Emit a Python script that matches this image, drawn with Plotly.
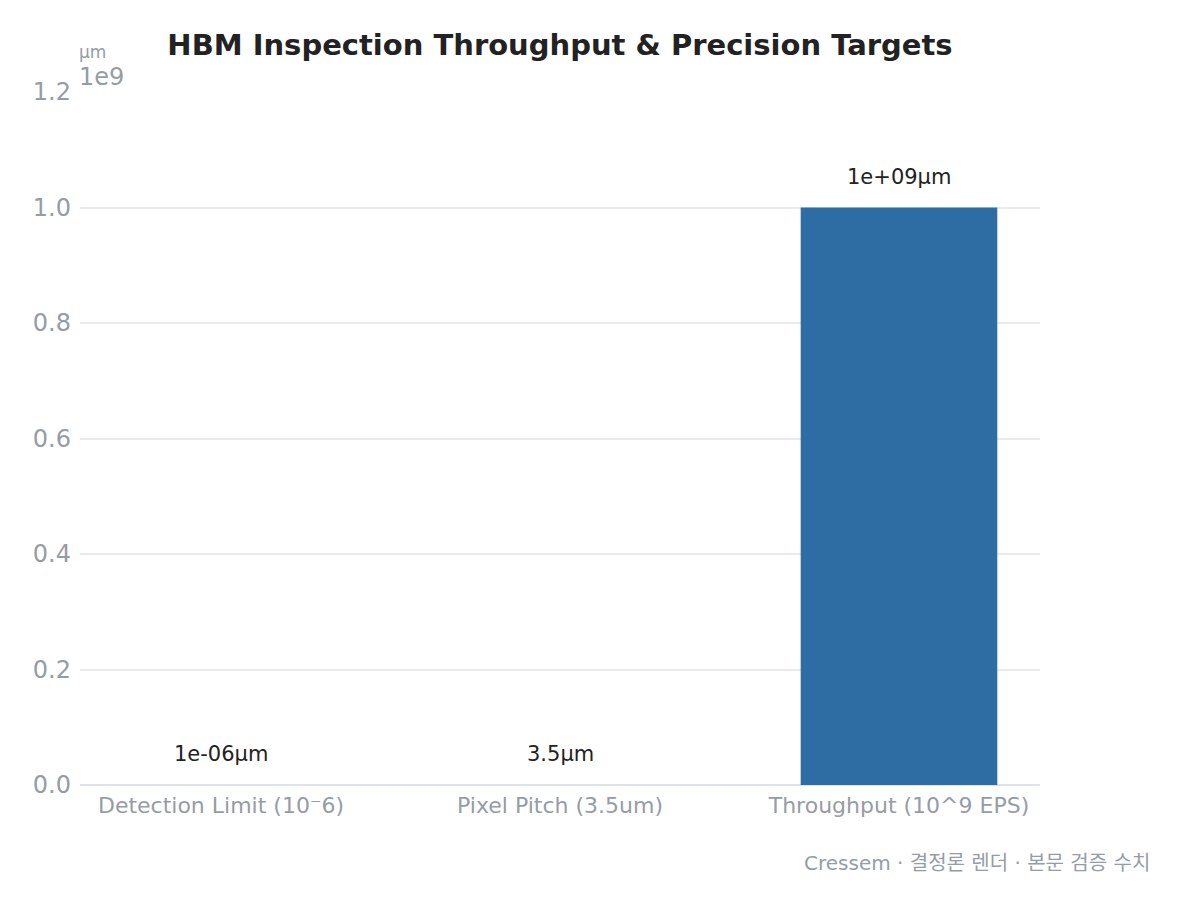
import plotly.graph_objects as go

# data
categories = ["Detection Limit (10⁻6)", "Pixel Pitch (3.5um)", "Throughput (10^9 EPS)"]
values = [1e-06, 3.5, 1e09]
value_labels = ["1e-06μm", "3.5μm", "1e+09μm"]
y_ticks = [0, 0.2e9, 0.4e9, 0.6e9, 0.8e9, 1.0e9, 1.2e9]
y_tick_text = ["0.0", "0.2", "0.4", "0.6", "0.8", "1.0", "1.2"]

font_name = "DejaVu Sans, Noto Sans CJK KR"
grey = "#969ca5"

fig = go.Figure()

fig.add_trace(go.Bar(
    x=list(range(len(categories))),
    y=values,
    width=0.58,
    marker=dict(color="#2e6da4", line=dict(width=0)),
    hoverinfo="skip",
))

# value labels above bars
for i, (v, lab) in enumerate(zip(values, value_labels)):
    fig.add_annotation(
        x=i, y=v, text=lab, showarrow=False,
        yanchor="bottom", yshift=17,
        font=dict(family=font_name, size=21, color="#222222"),
    )

# offset text + unit at the top of the y axis
fig.add_annotation(
    xref="paper", yref="paper", x=0, y=1.0, xanchor="left", yanchor="middle",
    text="1e9", showarrow=False, yshift=15, xshift=-2, borderpad=0,
    font=dict(family=font_name, size=24, color=grey),
)
fig.add_annotation(
    xref="paper", yref="paper", x=0, y=1.0, xanchor="left", yanchor="middle",
    text="μm", showarrow=False, yshift=40, xshift=-2, borderpad=0,
    font=dict(family=font_name, size=17, color=grey),
)

# caption
fig.add_annotation(
    xref="paper", yref="paper", x=1.1167, y=-0.1126, xanchor="right", yanchor="middle",
    text="Cressem · 결정론 렌더 · 본문 검증 수치", showarrow=False,
    font=dict(family=font_name, size=20, color=grey),
)

fig.update_layout(
    width=1180, height=903,
    margin=dict(l=72, r=148, t=84, b=126),
    paper_bgcolor="white", plot_bgcolor="white",
    showlegend=False,
    title=dict(
        text="<b>HBM Inspection Throughput & Precision Targets</b>",
        x=552 / 1180, xanchor="center", y=0.959, yanchor="middle",
        font=dict(family=font_name, size=29, color="#222222"),
    ),
    font=dict(family=font_name),
    xaxis=dict(
        range=[-0.416, 2.416],
        tickmode="array", tickvals=list(range(len(categories))), ticktext=categories,
        tickfont=dict(size=22, color=grey),
        showgrid=False, zeroline=False, showline=False, ticks="",
        ticklabelstandoff=5,
    ),
    yaxis=dict(
        range=[0, 1.2e9],
        tickmode="array", tickvals=y_ticks, ticktext=y_tick_text,
        tickfont=dict(size=24, color=grey),
        showgrid=True, gridcolor="#e8eaee", gridwidth=1.5,
        zeroline=True, zerolinecolor="#dfe3e8", zerolinewidth=2,
        showline=False, ticks="", ticklabelstandoff=8,
    ),
)

fig.write_html("out.html")
